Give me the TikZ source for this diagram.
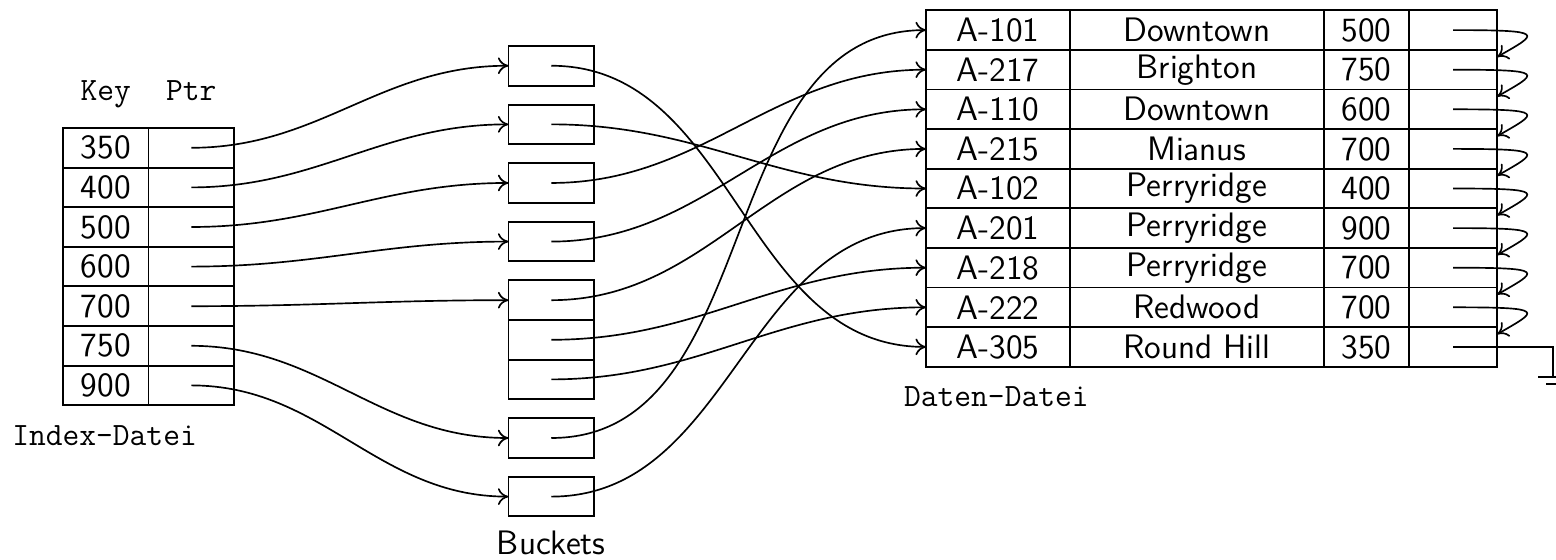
\documentclass[tikz,border=0pt]{standalone}
\usepackage{tikz}
\usetikzlibrary{positioning,arrows.meta}

\tikzset{
  cell/.style={draw, rectangle, inner sep=0pt, outer sep=0pt, minimum height=0.5cm,
    line width=0.7pt, font=\fontsize{12.2}{14.5}\selectfont\sffamily},
  lbl/.style={inner sep=0pt, anchor=base, font=\fontsize{11.7}{14}\selectfont\ttfamily},
  ptr/.style={-{To[length=3.8pt,width=6pt]}, line width=0.6pt}
}

\begin{document}
\begin{tikzpicture}
    \useasboundingbox (0,0) rectangle (19.646,-7.058);

    \foreach \k [count=\i] in {350,400,500,600,700,750,900} {
        \node[cell, minimum width=1.08cm] (k\i) at (1.335,-1.366-0.5*\i) {\k};
        \node[cell, minimum width=1.08cm, right=0pt of k\i] (p\i) {};
    }
    \node[lbl] (key) at (1.335,-1.263) {Key};
    \node[lbl] (ptrlbl) at (2.415,-1.263) {Ptr};
    \node[lbl] (index) at (1.32,-5.62) {Index-Datei};

    \foreach \y [count=\i] in {-0.83,-1.57,-2.31,-3.05,-3.79,-4.29,-4.79,-5.53,-6.27}
        \node[cell, minimum width=1.08cm] (b\i) at (6.96,\y) {};
    \node[lbl, font=\fontsize{12.2}{14.5}\selectfont\sffamily] (buckets) at (6.96,-7.0) {Buckets};

    \foreach \a/\b/\c [count=\i] in {A-101/Downtown/500, A-217/Brighton/750,
        A-110/Downtown/600, A-215/Mianus/700, A-102/Perryridge/400,
        A-201/Perryridge/900, A-218/Perryridge/700, A-222/Redwood/700,
        A-305/Round Hill/350} {
        \node[cell, minimum width=1.82cm] (a\i) at (12.602,0.12-0.5*\i) {\a};
        \node[cell, minimum width=3.2cm, right=0pt of a\i] (t\i) {\b};
        \node[cell, minimum width=1.08cm, right=0pt of t\i] (m\i) {\c};
        \node[cell, minimum width=1.11cm, right=0pt of m\i] (q\i) {};
    }
    \node[lbl] (daten) at (12.58,-5.135) {Daten-Datei};

    \foreach \i/\j in {1/1,2/2,3/3,4/4,5/5,6/8,7/9}
        \draw[ptr] (p\i.center) to[out=0,in=180] (b\j.west);

    \foreach \j/\i in {1/9,2/5,3/2,4/3,5/4,6/7,7/8,8/1,9/6}
        \draw[ptr] (b\j.center) to[out=0,in=180] (a\i.west);

    \foreach \i [count=\n from 2] in {1,...,8}
        \draw[ptr] (q\i.center) to[out=0,in=30,out distance=1.2cm,in distance=0.6cm]
            ([yshift=-0.09cm]q\n.north east);

    \coordinate (gnd) at (19.61,-4.756);
    \draw[line width=0.6pt] (q9.center) -| (gnd);
    \draw[line width=0.6pt] ([xshift=-0.19cm]gnd) -- ([xshift=0.19cm]gnd);
    \draw[line width=0.6pt] ([xshift=-0.09cm,yshift=-0.09cm]gnd) -- ([xshift=0.09cm,yshift=-0.09cm]gnd);
\end{tikzpicture}
\end{document}
